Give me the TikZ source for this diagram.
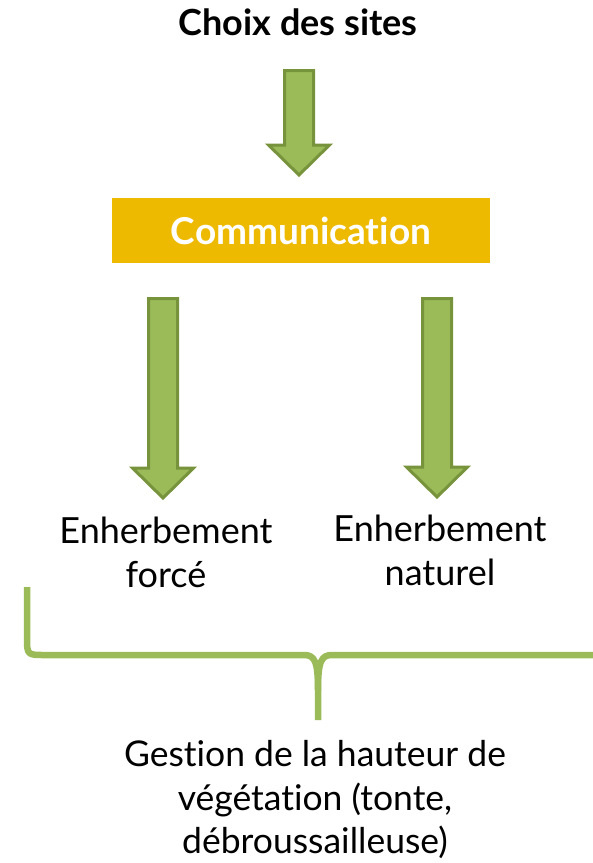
\documentclass[tikz,border=0pt]{standalone}
\usepackage{fontspec}
\setmainfont[Ligatures=NoCommon]{Lato}
\definecolor{gfill}{HTML}{9BBB59}
\definecolor{gline}{HTML}{77933C}
\definecolor{gold}{HTML}{EEBA00}
\tikzset{
  blockarrow/.style={draw=gline, fill=gfill, line width=3pt, line join=miter},
  lbl/.style={align=center, font=\fontsize{36}{44}\selectfont, inner sep=0pt},
  lblb/.style={align=center, font=\fontsize{35.5}{43.5}\selectfont, inner sep=0pt},
  ttl/.style={font=\fontsize{36}{40}\selectfont\bfseries, inner sep=0pt},
  box/.style={fill=gold, minimum width=378pt, minimum height=65pt, inner sep=0pt,
    text=white, font=\fontsize{37}{40}\selectfont\bfseries},
  brace/.style={draw=gfill, line width=6.5pt}
}
% #1 x centre, #2 top y, #3 tip y
\newcommand{\mybarrow}[3]{%
  \path[blockarrow] (#1-14.5,#2+1.5) -- (#1+14.5,#2+1.5) -- (#1+14.5,#3-33) --
    (#1+30.5,#3-33) -- (#1,#3-3) -- (#1-30.5,#3-33) -- (#1-14.5,#3-33) -- cycle;}
\begin{document}
\begin{tikzpicture}[x=1pt,y=-1pt]
\useasboundingbox (0,0) rectangle (593,863);
\node[ttl] (title) at (298,22) {Choix des sites};
\node[box] (comm) at (301,230.5) {Communication};
\node[lbl] (forc) at (166,552) {Enherbement\\forcé};
\node[lbl] (nat) at (440,550) {Enherbement\\naturel};
\node[lblb] (gest) at (315,800) {Gestion de la hauteur de\\végétation (tonte,\\débroussailleuse)};
\mybarrow{299}{69}{178}
\mybarrow{163}{297}{501}
\mybarrow{437}{297}{500}
\coordinate (bl) at (27,587);
\coordinate (br) at (593,655);
\coordinate (tip) at (318,720);
\draw[brace, line join=round] (bl) -- (27,637) .. controls (27,655) .. (45,655) -- (304,655)
  .. controls (315,655) and (318,662) .. (318,690) -- (tip);
\draw[brace, line join=round] (br) -- (332,655) .. controls (321,655) and (318,662) .. (318,690);
\end{tikzpicture}
\end{document}
